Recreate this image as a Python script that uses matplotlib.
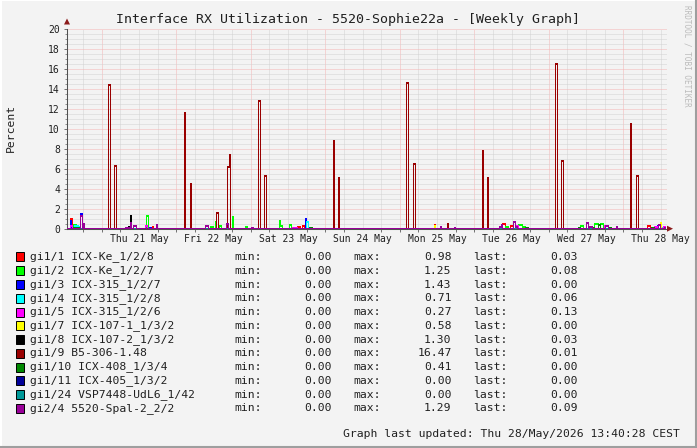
"""
Gráfica RX semanal estilo rrdtool (5520-Sophie22a).
Horas relativas a Thu 21 May 00:00; cada evento = (hora, intervalos de ~1 px, %).
"""
import numpy as np
import matplotlib
matplotlib.use("Agg")
import matplotlib.pyplot as plt  # noqa: E402
from matplotlib.patches import Rectangle, Polygon  # noqa: E402
from matplotlib.lines import Line2D  # noqa: E402

W, H = 697, 448
FUENTE = "DejaVu Sans Mono"

FIN_H = 181.67      # Thu 28 May 13:40

# --- datos por interfaz -------------------------------------------------
gi1_1 = [(-10.2, 2, 0.98), (16.5, 1, 0.15), (63.2, 3, 0.2), (64.8, 2, 0.3),
         (107.3, 1, 0.38), (129.2, 3, 0.5), (131.5, 3, 0.3), (175.9, 3, 0.3)]
gi1_2 = [(-9.2, 3, 0.4), (14.3, 2, 1.25), (35.0, 3, 0.2), (36.5, 1, 0.7),
         (38.0, 2, 0.3), (42.1, 1, 1.2), (46.4, 2, 0.2), (57.4, 1, 0.8),
         (57.7, 2, 0.25), (60.5, 2, 0.4), (130.2, 3, 0.2), (134.1, 4, 0.4),
         (135.5, 3, 0.2), (154.1, 3, 0.3), (158.8, 4, 0.45), (160.6, 3, 0.5)]
gi1_3 = [(-10.0, 1, 0.8), (-6.7, 2, 1.43), (15.5, 2, 0.1), (65.5, 1, 1.0),
         (178.9, 1, 0.3)]
gi1_4 = [(-8.6, 4, 0.3), (-7.5, 2, 0.2), (66.0, 2, 0.71), (180.7, 2, 0.06)]
gi1_5 = [(-10.0, 2, 0.25), (14.0, 2, 0.25), (61.5, 5, 0.1), (133.5, 2, 0.27),
         (162.0, 4, 0.27), (178.0, 3, 0.2), (181.0, 2, 0.13)]
gi1_7 = [(107.3, 1, 0.3), (180.0, 1, 0.58)]
gi1_8 = [(8.5, 1, 0.15), (9.4, 1, 1.30), (181.3, 1, 0.03)]
gi1_9 = [(2.35, 2, 14.4), (4.28, 2, 6.3), (26.7, 1, 11.6), (28.5, 1, 4.5),
         (37.1, 2, 1.6), (40.5, 2, 6.2), (41.2, 1, 7.4), (50.4, 2, 12.8),
         (52.4, 2, 5.3), (74.5, 1, 8.8), (76.4, 1, 5.1), (98.3, 2, 14.6),
         (100.3, 2, 6.5), (111.5, 1, 0.47), (122.5, 1, 7.8), (124.4, 1, 5.1),
         (146.3, 2, 16.47), (148.2, 2, 6.8), (170.3, 1, 10.5), (172.2, 2, 5.3)]
gi1_10 = [(-9.0, 6, 0.1), (66.8, 3, 0.1), (136.5, 3, 0.1), (153.5, 2, 0.1),
          (157.0, 5, 0.1), (159.9, 2, 0.41), (163.4, 2, 0.1), (177.0, 3, 0.1)]
gi1_11 = []
gi1_24 = []
gi2_4 = [(-6.7, 2, 1.29), (-6.0, 1, 0.5), (7.8, 4, 0.1), (9.4, 1, 0.6),
         (10.1, 3, 0.3), (17.5, 1, 0.4), (33.3, 3, 0.3), (40.3, 2, 0.45),
         (48.1, 2, 0.1), (109.2, 1, 0.15), (113.5, 1, 0.1), (128.2, 2, 0.2),
         (128.9, 1, 0.4), (132.7, 2, 0.7), (133.4, 2, 0.15), (156.1, 2, 0.55),
         (157.0, 3, 0.15), (162.3, 3, 0.25), (165.7, 1, 0.15), (179.4, 2, 0.35),
         (181.3, 1, 0.09)]

series = [gi1_1, gi1_2, gi1_3, gi1_4, gi1_5, gi1_7, gi1_8, gi1_9, gi1_10,
          gi1_11, gi1_24, gi2_4]
nombres = ["gi1/1 ICX-Ke_1/2/8", "gi1/2 ICX-Ke_1/2/7", "gi1/3 ICX-315_1/2/7",
           "gi1/4 ICX-315_1/2/8", "gi1/5 ICX-315_1/2/6", "gi1/7 ICX-107-1_1/3/2",
           "gi1/8 ICX-107-2_1/3/2", "gi1/9 B5-306-1.48", "gi1/10 ICX-408_1/3/4",
           "gi1/11 ICX-405_1/3/2", "gi1/24 VSP7448-UdL6_1/42", "gi2/4 5520-Spal-2_2/2"]
colores = ["#FF0000", "#00FF00", "#0000FF", "#00FFFF", "#FF00FF", "#FFFF00",
           "#000000", "#990000", "#008800", "#000099", "#009999", "#990099"]
minimos = [0.00] * 12
maximos = [0.98, 1.25, 1.43, 0.71, 0.27, 0.58, 1.30, 16.47, 0.41, 0.00, 0.00, 1.29]
ultimos = [0.03, 0.08, 0.00, 0.06, 0.13, 0.00, 0.03, 0.01, 0.00, 0.00, 0.00, 0.09]

etiquetas_dias = ["Thu 21 May", "Fri 22 May", "Sat 23 May", "Sun 24 May",
                  "Mon 25 May", "Tue 26 May", "Wed 27 May", "Thu 28 May"]

TITULO = "Interface RX Utilization - 5520-Sophie22a - [Weekly Graph]"
ACTUALIZADO = "Graph last updated: Thu 28/May/2026 13:40:28 CEST"

FONDO = "#F3F3F3"
GRIS_GRID = "#D2D2D2"
ROJO_GRID = "#F4B4B4"
FLECHA = "#8B1A1A"

# ejes: x 67..667 px, y 0 -> 228.7 px, 20 -> 28.7 px
x0, x1 = 67, 667
y_cero, y_top = 228.7, 28.7
PX_H = 3.105                       # píxeles por hora
XMIN = -(101.7 - x0) / PX_H        # Thu 21 00:00 cae en x = 101.7 px
XMAX = XMIN + (x1 - x0) / PX_H
PASO_H = 1.0 / PX_H                # un intervalo = un píxel
INICIO_H = XMIN + 0.5 * PASO_H     # bordes en el centro de cada píxel


def serie_a_escalones(eventos):
    n = int((FIN_H - INICIO_H) / PASO_H)
    bordes = INICIO_H + np.arange(n + 1) * PASO_H
    valores = np.zeros(n)
    for hora, anchura, valor in eventos:
        i = int(round((hora - INICIO_H) / PASO_H))
        valores[i:i + anchura] = valor
    return bordes, valores


def px(x, y):
    return (x / W, 1 - y / H)


fig = plt.figure(figsize=(W / 100, H / 100), dpi=100, facecolor=FONDO)
ax = fig.add_axes([x0 / W, 1 - y_cero / H, (x1 - x0) / W, (y_cero - y_top) / H])
ax.set_facecolor(FONDO)
ax.set_xlim(XMIN, XMAX)
ax.set_ylim(0, 20)

# rejilla punteada (1 px encendido, 1 px apagado)
punteado = (0, (1.0, 1.0))
for h in np.arange(-6, XMAX, 6):
    es_dia = abs(h % 24) < 1e-6
    ax.axvline(h, color=ROJO_GRID if es_dia else GRIS_GRID, lw=0.72,
               ls=punteado, zorder=0)
for v in np.arange(0.5, 20.01, 0.5):
    es_mayor = abs(v % 2) < 1e-6
    ax.axhline(v, color=ROJO_GRID if es_mayor else GRIS_GRID, lw=0.72,
               ls=punteado, zorder=0)

# series (la última queda encima)
for i, (eventos, color) in enumerate(zip(series, colores)):
    bordes, valores = serie_a_escalones(eventos)
    ax.stairs(valores, bordes, baseline=None, color=color, lw=0.72,
              antialiased=False, zorder=3 + i * 0.01)

for lado in ["top", "right"]:
    ax.spines[lado].set_visible(False)
for lado in ["left", "bottom"]:
    ax.spines[lado].set_color("#505050")
    ax.spines[lado].set_linewidth(0.75)
ax.spines["bottom"].set_zorder(2)

ax.set_xticks(np.arange(12, 181, 24))
ax.set_xticklabels(etiquetas_dias, family=FUENTE, fontsize=7)
ax.set_xticks(np.arange(-6, XMAX, 6), minor=True)
ax.set_yticks(np.arange(0, 21, 2))
ax.set_yticklabels([str(v) for v in range(0, 21, 2)], family=FUENTE, fontsize=7)
ax.set_yticks(np.arange(0, 20.01, 0.5), minor=True)
ax.tick_params(axis="x", which="major", length=0, pad=4, colors="#202020")
ax.tick_params(axis="x", which="minor", length=2, width=0.7, color="#707070")
ax.tick_params(axis="y", which="major", length=2, width=0.7, pad=3,
               color="#707070", labelcolor="#202020")
ax.tick_params(axis="y", which="minor", length=1.5, width=0.7, color="#909090")

# flechas de los ejes
fig.patches.append(Polygon([px(x0 - 3, 24.5), px(x0 + 3, 24.5), px(x0, 18.5)],
                           closed=True, transform=fig.transFigure,
                           facecolor=FLECHA, edgecolor=FLECHA, lw=0))
fig.patches.append(Polygon([px(667, y_cero - 3), px(667, y_cero + 3), px(673, y_cero)],
                           closed=True, transform=fig.transFigure,
                           facecolor=FLECHA, edgecolor=FLECHA, lw=0))

# textos
fig.text(348.5 / W, 1 - 19 / H, TITULO, family=FUENTE, fontsize=9.5,
         ha="center", va="center", color="#202020")
fig.text(11 / W, 1 - 128 / H, "Percent", family=FUENTE, fontsize=8.2,
         rotation=90, ha="center", va="center", color="#202020")
fig.text(687 / W, 1 - 5 / H, "RRDTOOL / TOBI OETIKER", family=FUENTE, fontsize=5.5,
         rotation=270, ha="center", va="top", color="#BBBBBB")

fila0, paso_fila = 257, 13.75
for i, nombre in enumerate(nombres):
    y = fila0 + i * paso_fila
    fig.patches.append(Rectangle(px(16, y + 4.5), 7.5 / W, 9 / H,
                                 transform=fig.transFigure, facecolor=colores[i],
                                 edgecolor="#000000", lw=0.7))
    yf = 1 - y / H
    kw = dict(family=FUENTE, fontsize=8.2, va="center", color="#202020")
    fig.text(30 / W, yf, nombre, ha="left", **kw)
    fig.text(234.5 / W, yf, "min:", ha="left", **kw)
    fig.text(332 / W, yf, f"{minimos[i]:.2f}", ha="right", **kw)
    fig.text(353.5 / W, yf, "max:", ha="left", **kw)
    fig.text(451.5 / W, yf, f"{maximos[i]:.2f}", ha="right", **kw)
    fig.text(473.5 / W, yf, "last:", ha="left", **kw)
    fig.text(578 / W, yf, f"{ultimos[i]:.2f}", ha="right", **kw)

fig.text(680 / W, 1 - 434 / H, ACTUALIZADO, family=FUENTE, fontsize=8.2,
         ha="right", va="center", color="#202020")

# marco 3D
for (xa, ya, xb, yb, c) in [(0, 0.5, W, 0.5, "#FFFFFF"), (0.5, 0, 0.5, H, "#FFFFFF"),
                            (0, H - 1, W, H - 1, "#9E9E9E"), (W - 1, 0, W - 1, H, "#9E9E9E")]:
    fig.lines.append(Line2D([xa / W, xb / W], [1 - ya / H, 1 - yb / H],
                            transform=fig.transFigure, color=c, lw=1.5))

fig.savefig("out.png", dpi=100, facecolor=FONDO)
